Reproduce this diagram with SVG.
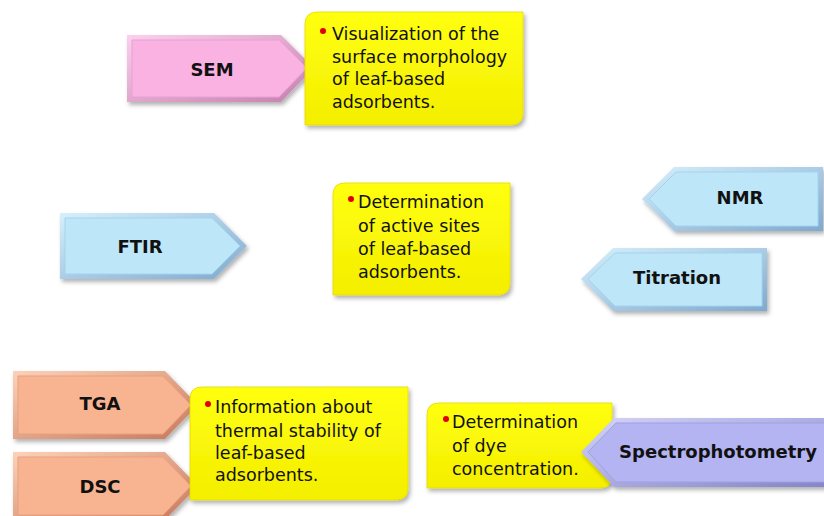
<svg xmlns="http://www.w3.org/2000/svg" width="824" height="516" viewBox="0 0 824 516">
<defs>
<filter id="sh" x="-10%" y="-10%" width="130%" height="140%"><feDropShadow dx="2" dy="3" stdDeviation="2" flood-color="#000" flood-opacity="0.3"/></filter>
<linearGradient id="yel" x1="0" y1="0" x2="0" y2="1"><stop offset="0" stop-color="#FFFF10"/><stop offset="1" stop-color="#F4EE00"/></linearGradient>
<linearGradient id="pinkB" x1="0" y1="0" x2="1" y2="1"><stop offset="0" stop-color="#FBD0EE"/><stop offset="1" stop-color="#C57FAE"/></linearGradient>
<linearGradient id="blueB" x1="0" y1="0" x2="1" y2="1"><stop offset="0" stop-color="#D6F0FC"/><stop offset="1" stop-color="#7FA9CF"/></linearGradient>
<linearGradient id="oraB" x1="0" y1="0" x2="1" y2="1"><stop offset="0" stop-color="#FCD2B8"/><stop offset="1" stop-color="#C7775A"/></linearGradient>
<linearGradient id="purB" x1="0" y1="0" x2="1" y2="1"><stop offset="0" stop-color="#D4D4FA"/><stop offset="1" stop-color="#8585C8"/></linearGradient>
</defs>
<style>
.lbl{font-family:"DejaVu Sans","Liberation Sans",sans-serif;font-weight:bold;font-size:18px;fill:#111;text-anchor:middle}
.txt{font-family:"DejaVu Sans","Liberation Sans",sans-serif;font-size:17.5px;fill:#111}
.box{fill:url(#yel);filter:url(#sh);stroke:#E6D800;stroke-width:0.8}
.dot{fill:#E00000}
.pink{fill:#F9B2E2;stroke:#E9A0D2;stroke-width:1}
.blue{fill:#BDE6F8;stroke:#A6D2EC;stroke-width:1}
.ora{fill:#F8B491;stroke:#E8A07E;stroke-width:1}
.pur{fill:#B4B4F2;stroke:#A0A0E2;stroke-width:1}
</style>
<rect width="824" height="516" fill="#fff"/>

<g id="sem">
<path d="M127,35 H281 L314,68 L281,102 H127 Z" fill="url(#pinkB)" filter="url(#sh)"/>
<path d="M132,40 H279 L307,68 L279,97 H132 Z" class="pink"/>
<text x="212" y="76" class="lbl" font-size="19">SEM</text>
</g>
<g id="sem-info">
<path d="M318,12 H523 V113 Q523,125 511,125 H305 V24 Q305,12 318,12 Z" class="box"/>
<circle cx="323" cy="31" r="3" class="dot"/>
<text class="txt"><tspan x="332" y="40">Visualization of the</tspan><tspan x="332" y="63">surface morphology</tspan><tspan x="332" y="85">of leaf-based</tspan><tspan x="332" y="108">adsorbents.</tspan></text>
</g>

<g id="ftir">
<path d="M60,213 H214 L247,246 L214,279 H60 Z" fill="url(#blueB)" filter="url(#sh)"/>
<path d="M65,218 H212 L240,246 L212,274 H65 Z" class="blue"/>
<text x="140" y="253" class="lbl" font-size="19">FTIR</text>
</g>
<g id="active-info">
<path d="M345,183 H510 V283 Q510,295 498,295 H333 V195 Q333,183 345,183 Z" class="box"/>
<circle cx="351" cy="199" r="3" class="dot"/>
<text class="txt"><tspan x="358" y="208">Determination</tspan><tspan x="358" y="232">of active sites</tspan><tspan x="358" y="255">of leaf-based</tspan><tspan x="358" y="278">adsorbents.</tspan></text>
</g>

<g id="nmr">
<path d="M823,167 H674 L642,199 L674,231 H823 Z" fill="url(#blueB)" filter="url(#sh)"/>
<path d="M818,172 H676 L649,199 L676,226 H818 Z" class="blue"/>
<text x="740" y="204" class="lbl" font-size="19">NMR</text>
</g>
<g id="titration">
<path d="M767,248 H613 L581,279 L613,311 H767 Z" fill="url(#blueB)" filter="url(#sh)"/>
<path d="M762,253 H615 L588,279 L615,306 H762 Z" class="blue"/>
<text x="677" y="284" class="lbl">Titration</text>
</g>

<g id="tga">
<path d="M13,371 H165 L198,405 L165,439 H13 Z" fill="url(#oraB)" filter="url(#sh)"/>
<path d="M18,376 H163 L191,405 L163,434 H18 Z" class="ora"/>
<text x="100" y="410" class="lbl" font-size="19">TGA</text>
</g>
<g id="dsc">
<path d="M13,452 H165 L198,486 L165,520 H13 Z" fill="url(#oraB)" filter="url(#sh)"/>
<path d="M18,457 H163 L191,486 L163,515 H18 Z" class="ora"/>
<text x="100" y="493" class="lbl" font-size="19">DSC</text>
</g>
<g id="thermal-info">
<path d="M202,387 H408 V488 Q408,500 396,500 H190 V399 Q190,387 202,387 Z" class="box"/>
<circle cx="208" cy="404" r="3" class="dot"/>
<text class="txt"><tspan x="215" y="413">Information about</tspan><tspan x="215" y="437">thermal stability of</tspan><tspan x="215" y="459">leaf-based</tspan><tspan x="215" y="481">adsorbents.</tspan></text>
</g>

<g id="dye-info">
<path d="M439,403 H612 V476 Q612,488 600,488 H427 V415 Q427,403 439,403 Z" class="box"/>
<circle cx="446" cy="419" r="3" class="dot"/>
<text class="txt"><tspan x="452" y="428">Determination</tspan><tspan x="452" y="452">of dye</tspan><tspan x="452" y="475">concentration.</tspan></text>
</g>
<g id="spectro">
<path d="M826,418 H614 L581,452 L614,487 H826 Z" fill="url(#purB)" filter="url(#sh)"/>
<path d="M826,423 H616 L588,452 L616,482 H826 Z" class="pur"/>
<text x="718" y="458" class="lbl">Spectrophotometry</text>
</g>
</svg>
